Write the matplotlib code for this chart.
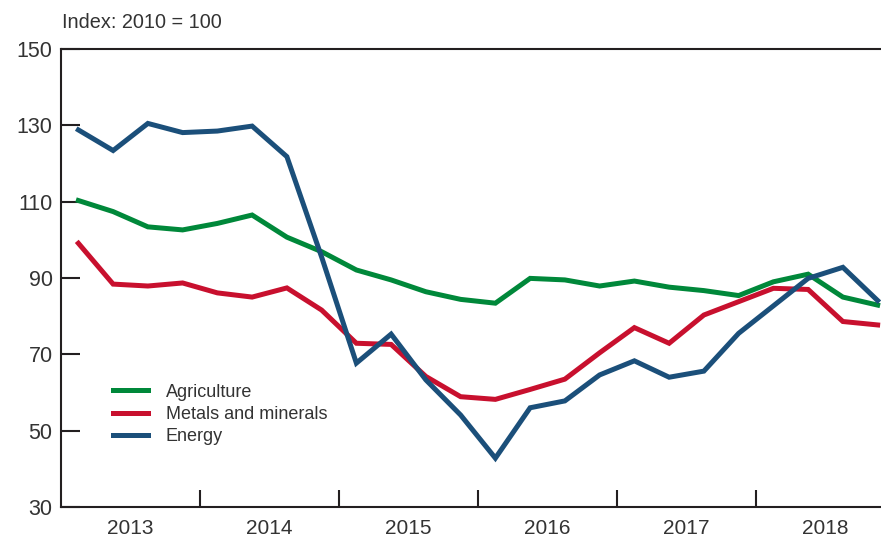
import numpy as np
import matplotlib
matplotlib.use("Agg")
import matplotlib.pyplot as plt

plt.rcParams['font.family'] = ['Liberation Sans', 'DejaVu Sans']

years = ['2013', '2014', '2015', '2016', '2017', '2018']

# quarterly index values, 2013Q1 .. 2018Q4
agriculture = [110.3, 107.4, 103.4, 102.6, 104.3, 106.5, 100.7, 96.9,
               92.1, 89.5, 86.4, 84.4, 83.4, 89.9, 89.5, 87.9,
               89.2, 87.6, 86.7, 85.4, 89.0, 91.0, 85.0, 82.9]
metals = [99.1, 88.4, 87.9, 88.7, 86.1, 85.0, 87.4, 81.6,
          72.9, 72.6, 64.2, 58.9, 58.2, 60.8, 63.5, 70.4,
          77.0, 72.9, 80.3, 83.8, 87.3, 87.0, 78.6, 77.7]
energy = [128.8, 123.4, 130.5, 128.1, 128.5, 129.8, 121.8, 95.5,
          67.7, 75.3, 63.3, 54.1, 42.8, 56.0, 57.8, 64.6,
          68.3, 64.0, 65.6, 75.5, 82.7, 89.9, 92.8, 84.1]

x = np.arange(len(energy)) + 0.5

fig = plt.figure(figsize=(8.81, 5.38), dpi=100)
ax = fig.add_axes([61/881, 1 - 507/538, 1 - 61/881, (507 - 49)/538])

lw = 3.6
ax.plot(x, agriculture, color='#00883A', lw=lw, label='Agriculture', solid_joinstyle='miter')
ax.plot(x, metals, color='#C8102E', lw=lw, label='Metals and minerals', solid_joinstyle='miter')
ax.plot(x, energy, color='#1B4F7A', lw=lw, label='Energy', solid_joinstyle='miter')

ax.set_ylim(30, 150)
ax.set_xlim(0, 820/34.75)
ax.set_yticks(np.arange(30, 151, 20))
ax.tick_params(axis='y', direction='in', length=14, width=1.5, color='#231F20',
               labelsize=15.5, labelcolor='#333333', pad=6)

ax.set_xticks([4, 8, 12, 16, 20])
ax.set_xticklabels([])
ax.tick_params(axis='x', which='major', direction='in', length=12, width=1.5, color='#231F20')
ax.set_xticks(np.arange(2, 24, 4), minor=True)
ax.set_xticklabels(years, minor=True)
ax.tick_params(axis='x', which='minor', length=0, labelsize=15, labelcolor='#333333', pad=9)

for s in ['left', 'bottom', 'top']:
    ax.spines[s].set_linewidth(1.5)
    ax.spines[s].set_color('#231F20')
ax.spines['right'].set_visible(False)

fig.text(62/881, 1 - 23/538, 'Index: 2010 = 100', fontsize=14.3, color='#333333', va='center')

ax.legend(loc='upper left', bbox_to_anchor=(0.044, 0.305), frameon=False, fontsize=13,
          handlelength=1.9, handletextpad=1.0, labelspacing=0.3, labelcolor='#333333')

fig.savefig('out.png', dpi=100)
